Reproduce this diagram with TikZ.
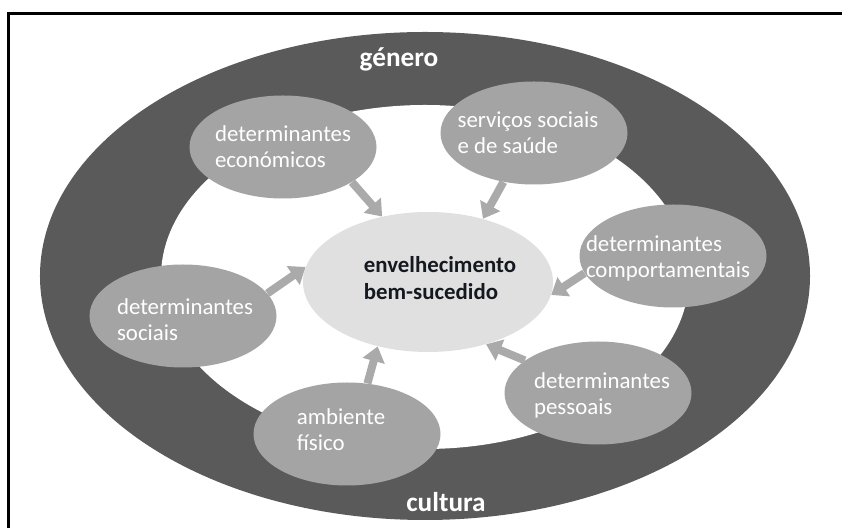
\documentclass[tikz,border=0pt]{standalone}
\usepackage{fontspec}
\setmainfont{Carlito}
\usetikzlibrary{arrows.meta, shapes.geometric}
\definecolor{ringgrey}{HTML}{5A5A5A}
\definecolor{blobgrey}{HTML}{A4A4A4}
\definecolor{coregrey}{HTML}{E0E0E0}
\definecolor{arrowgrey}{HTML}{AAAAAA}
\definecolor{coreink}{HTML}{14181F}
\tikzset{
  blob/.style={ellipse, fill=blobgrey, minimum width=37.4mm, minimum height=20.6mm, inner sep=0pt},
  blobtext/.style={align=left, text=white, inner sep=0pt, font=\fontsize{13}{14.8}\selectfont},
  ringtext/.style={text=white, inner sep=0pt, font=\bfseries\fontsize{15.5}{18}\selectfont},
  feed/.style={-{Triangle[length=3mm, width=4.4mm]}, line width=1.6mm, arrowgrey},
}

\begin{document}
\begin{tikzpicture}[x=0.2mm, y=-0.2mm]
\useasboundingbox (0,0) rectangle (842,528);
\draw[line width=0.6mm] (842,14) -| (8,528);

% ring and hole
\node[ellipse, fill=ringgrey, minimum width=154mm, minimum height=97.6mm, inner sep=0pt] (ring) at (425,276) {};
\node[ellipse, fill=white, minimum width=105.6mm, minimum height=68.8mm, inner sep=0pt] (hole) at (425,277) {};
\node[ringtext] (genero) at (399,59) {género};
\node[ringtext] (cultura) at (446,502) {cultura};

% centre
\node[ellipse, fill=coregrey, minimum width=50mm, minimum height=28mm, inner sep=0pt] (core) at (428,282) {};
\node[align=left, text=coreink, inner sep=0pt, font=\bfseries\fontsize{13}{15.4}\selectfont] (coretxt) at (440,278) {envelhecimento\\bem-sucedido};

% determinants
\node[blob] (econ) at (283,147) {};
\node[blobtext] (econtxt) at (econ) {determinantes\\económicos};
\node[blob] (serv) at (534,133) {};
\node[blobtext] (servtxt) at (528,133) {serviços sociais\\e de saúde};
\node[blob] (comp) at (673,256) {};
\node[blobtext] (comptxt) at (668,258) {determinantes\\comportamentais};
\node[blob] (pess) at (598,393) {};
\node[blobtext] (pesstxt) at (602,395) {determinantes\\pessoais};
\node[blob] (amb) at (347,434) {};
\node[blobtext] (ambtxt) at (341,430) {ambiente\\físico};
\node[blob] (soc) at (183,316) {};
\node[blobtext] (soctxt) at (185,320) {determinantes\\sociais};

\draw[feed] (econ.-27) -- (core.125);
\draw[feed] (serv.-122) -- (core.49);
\draw[feed] (comp.-169) -- (core.-6);
\draw[feed] (pess.156) -- (core.-47);
\draw[feed] (amb.68) -- (core.-128);
\draw[feed] (soc.15) -- (core.173);
\end{tikzpicture}
\end{document}
